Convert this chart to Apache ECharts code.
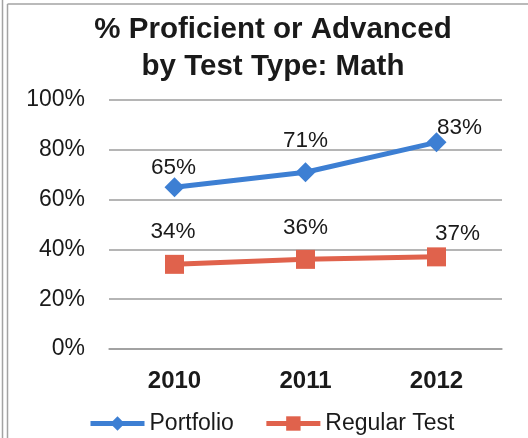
<!DOCTYPE html>
<html>
<head>
<meta charset="utf-8">
<script src="https://cdn.jsdelivr.net/npm/echarts@6/dist/echarts.min.js"></script>
<style>
html,body{margin:0;padding:0;background:#fff;}
#chart{width:528px;height:438px;}
</style>
</head>
<body>
<div id="chart"></div>
<script>
const titleText = "% Proficient or Advanced\nby Test Type: Math";
const categories = ["2010", "2011", "2012"];
const portfolio = [65, 71, 83];
const regularTest = [34, 36, 37];
const yTicks = [0, 20, 40, 60, 80, 100];
const seriesNames = ["Portfolio", "Regular Test"];

const FONT = "'Liberation Sans', Arial, sans-serif";
const BLUE = "#3d7fd3";
const RED = "#e0624c";

// label placement offsets (styling)
const portfolioOffsets = [[-1, -19], [0, -31], [23, -15]];
const regularOffsets = [[-1.5, -33], [0, -32], [21, -23]];

function mkData(vals, offs) {
  return vals.map((v, i) => ({
    value: v,
    label: { offset: offs[i] }
  }));
}

const chart = echarts.init(document.getElementById('chart'), null, { renderer: 'canvas' });
chart.setOption({
  backgroundColor: '#ffffff',
  animation: false,
  title: {
    text: titleText,
    left: 268,
    textAlign: 'center',
    top: 6,
    textStyle: {
      fontFamily: FONT,
      fontWeight: 'bold',
      fontSize: 29.5,
      lineHeight: 37,
      color: '#1a1a1a'
    }
  },
  graphic: [
    { type: 'line', shape: { x1: 2.5, y1: 0, x2: 2.5, y2: 438 }, style: { stroke: '#a3a3a3', lineWidth: 1.5 } },
    { type: 'line', shape: { x1: 7.5, y1: 4, x2: 7.5, y2: 438 }, style: { stroke: '#a3a3a3', lineWidth: 1.5 } },
    { type: 'line', shape: { x1: 7.5, y1: 4, x2: 528, y2: 4 }, style: { stroke: '#a3a3a3', lineWidth: 1.5 } }
  ],
  legend: {
    data: seriesNames,
    left: 83,
    top: 407,
    itemWidth: 54,
    itemHeight: 18,
    itemGap: 30,
    lineStyle: { width: 5 },
    textStyle: { fontFamily: FONT, fontSize: 23, color: '#1a1a1a' }
  },
  grid: {
    left: 109,
    right: 26,
    top: 100,
    bottom: 89,
    containLabel: false
  },
  xAxis: {
    type: 'category',
    data: categories,
    boundaryGap: true,
    axisLine: { show: true, lineStyle: { color: '#9c9c9c', width: 1.5 } },
    axisTick: { show: false },
    axisLabel: {
      fontFamily: FONT,
      fontWeight: 'bold',
      fontSize: 24,
      color: '#1a1a1a',
      margin: 20
    }
  },
  yAxis: {
    type: 'value',
    min: yTicks[0],
    max: yTicks[yTicks.length - 1],
    interval: 20,
    axisLine: { show: false },
    axisTick: { show: false },
    splitLine: { show: true, lineStyle: { color: '#9c9c9c', width: 1.5 } },
    axisLabel: {
      fontFamily: FONT,
      fontSize: 23,
      color: '#1a1a1a',
      margin: 24,
      formatter: v => v + '%'
    }
  },
  series: [
    {
      name: seriesNames[0],
      type: 'line',
      data: mkData(portfolio, portfolioOffsets),
      symbol: 'diamond',
      symbolSize: 20,
      itemStyle: { color: BLUE },
      lineStyle: { color: BLUE, width: 5 },
      label: {
        show: true,
        position: 'inside',
        formatter: p => p.value + '%',
        fontFamily: FONT,
        fontSize: 22.5,
        color: '#1a1a1a'
      },
      z: 3
    },
    {
      name: seriesNames[1],
      type: 'line',
      data: mkData(regularTest, regularOffsets),
      symbol: 'rect',
      symbolSize: 19,
      itemStyle: { color: RED },
      lineStyle: { color: RED, width: 5 },
      label: {
        show: true,
        position: 'inside',
        formatter: p => p.value + '%',
        fontFamily: FONT,
        fontSize: 22.5,
        color: '#1a1a1a'
      },
      z: 3
    }
  ]
});
</script>
</body>
</html>
